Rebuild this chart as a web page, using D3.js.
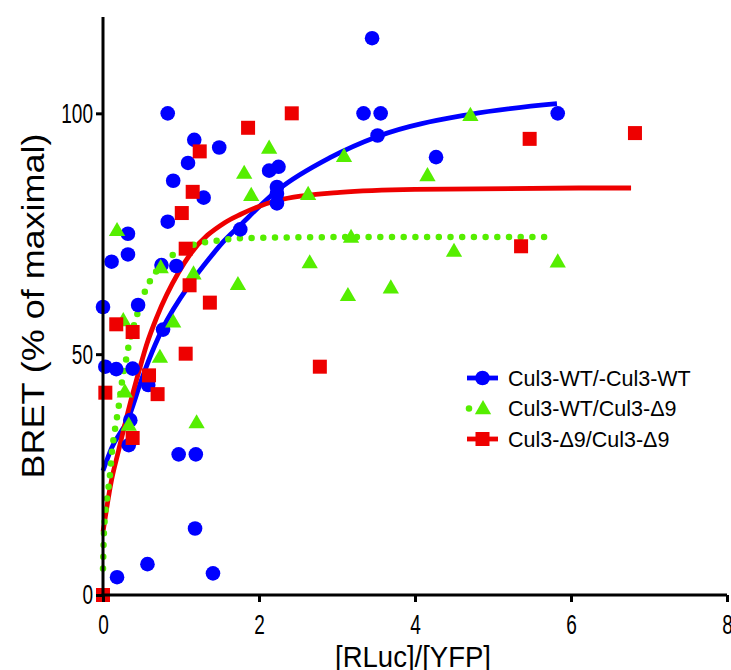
<!DOCTYPE html>
<html>
<head>
<meta charset="utf-8">
<script src="https://cdn.jsdelivr.net/npm/d3@7"></script>
<style>
  body { margin: 0; background: #fff; }
  svg { display: block; font-family: 'Liberation Sans', Arial, Helvetica, sans-serif; }
</style>
</head>
<body>
<svg id="chart" width="731" height="670"></svg>
<script>
// series names
const seriesNames = ['Cul3-WT/-Cul3-WT', 'Cul3-WT/Cul3-Δ9', 'Cul3-Δ9/Cul3-Δ9']

// measured points [RLuc]/[YFP], BRET %
const wtWtPoints = [
  [0.0, 59.8], [0.03, 47.4], [0.11, 69.2], [0.17, 46.9], [0.18, 3.7], [0.32, 75.0],
  [0.32, 70.7], [0.33, 31.1], [0.35, 36.3], [0.38, 47.0], [0.45, 60.2], [0.57, 6.4],
  [0.58, 43.6], [0.75, 68.5], [0.77, 55.1], [0.83, 100], [0.83, 77.5], [0.90, 86.0],
  [0.94, 68.3], [0.97, 29.2], [1.09, 89.7], [1.17, 94.5], [1.18, 13.8], [1.19, 29.2],
  [1.29, 82.5], [1.41, 4.5], [1.49, 92.9], [1.76, 75.9], [2.13, 88.1], [2.25, 88.9],
  [2.23, 84.7], [2.23, 83.3], [2.23, 81.3], [3.34, 100], [3.45, 115.6], [3.52, 95.4],
  [3.56, 100], [4.27, 90.9], [5.83, 100]
]
const wtD9Points = [
  [0.18, 75.7], [0.26, 57.0], [0.28, 42.2], [0.33, 35.3], [0.73, 49.4], [0.74, 68.0],
  [0.90, 56.7], [1.16, 66.7], [1.20, 35.8], [1.73, 64.5], [1.81, 87.6], [1.90, 83.0],
  [2.13, 92.8], [2.63, 83.2], [2.65, 69.0], [3.09, 91.1], [3.14, 62.2], [3.18, 74.3],
  [3.69, 63.8], [4.16, 87.1], [4.50, 71.4], [4.71, 99.6], [5.83, 69.2]
]
const d9D9Points = [
  [0, 0], [0.03, 42.0], [0.17, 56.2], [0.38, 54.6], [0.38, 32.6], [0.59, 45.6],
  [0.70, 41.7], [1.01, 79.3], [1.06, 71.9], [1.06, 50.1], [1.11, 64.3], [1.15, 83.7],
  [1.24, 92.1], [1.37, 60.7], [1.86, 97.0], [2.42, 100], [2.78, 47.4], [5.36, 72.4],
  [5.47, 94.7], [6.82, 95.9]
]

// fitted curves
const wtWtCurve = [
  [0, 25.8], [0.11, 30.5], [0.32, 36.5], [0.5, 45], [0.67, 52], [0.77, 55.5], [1.12, 64.7],
  [1.37, 70], [1.54, 73.3], [1.76, 76.8], [2.25, 84.2], [2.91, 90.8], [3.52, 95.2],
  [4.71, 99.8], [5.82, 102]
]
const wtD9Curve = [
  [0, 5.5], [0.01, 12], [0.03, 17], [0.06, 21], [0.09, 25], [0.11, 29], [0.15, 34],
  [0.2, 39], [0.24, 43.9], [0.29, 48.4], [0.32, 51], [0.43, 57.8], [0.53, 62.7],
  [0.67, 66.9], [0.87, 70.3], [1.0, 71.6], [1.14, 72.6], [1.43, 73.5], [1.7, 74],
  [2.2, 74.2], [3, 74.3], [5.75, 74.3]
]
const d9D9Curve = [
  [0, 13.1], [0.11, 23.9], [0.2, 30], [0.32, 38], [0.47, 47], [0.56, 52], [0.69, 57.7],
  [0.97, 67], [1.12, 70.8], [1.56, 77.3], [1.76, 79], [2.23, 81.9], [3.04, 83.6],
  [4, 84.2], [6.1, 84.5], [6.77, 84.5]
]

const xTicks = [0, 2, 4, 6, 8]
const yTicks = [0, 50, 100]

const margin = { left: 103, right: 4, top: 17, bottom: 75 }
const width = 731
const height = 670

const blue = '#0000ff'
const green = '#55ee00'
const red = '#ee0000'

const svg = d3.select('#chart')

const xScale = d3.scaleLinear().domain([0, 8]).range([margin.left, width - margin.right])
const yScale = d3.scaleLinear().domain([0, 120]).range([height - margin.bottom, margin.top])

const line = d3.line()
  .x(d => xScale(d[0]))
  .y(d => yScale(d[1]))
  .curve(d3.curveMonotoneX)

// curves
svg.append('path').datum(wtWtCurve)
  .attr('d', line).attr('fill', 'none').attr('stroke', blue).attr('stroke-width', 4.8)
svg.append('path').datum(d9D9Curve)
  .attr('d', line).attr('fill', 'none').attr('stroke', red).attr('stroke-width', 4.8)
svg.append('path').datum(wtD9Curve)
  .attr('d', line).attr('fill', 'none').attr('stroke', green).attr('stroke-width', 6.5)
  .attr('stroke-linecap', 'round').attr('stroke-dasharray', '0 11.7')

const tri = d3.symbol().type(d3.symbolTriangle).size(115)

// points
svg.append('g').selectAll('circle').data(wtWtPoints).join('circle')
  .attr('cx', d => xScale(d[0])).attr('cy', d => yScale(d[1]))
  .attr('r', 7.3).attr('fill', blue)
svg.append('g').selectAll('path').data(wtD9Points).join('path')
  .attr('d', tri)
  .attr('transform', d => `translate(${xScale(d[0])},${yScale(d[1]) + 1})`)
  .attr('fill', green)
svg.append('g').selectAll('rect').data(d9D9Points).join('rect')
  .attr('x', d => xScale(d[0]) - 7).attr('y', d => yScale(d[1]) - 7)
  .attr('width', 14).attr('height', 14).attr('fill', red)

// axes
const xAxis = d3.axisBottom(xScale).tickValues(xTicks).tickSize(7).tickSizeOuter(0).tickPadding(12)
const yAxis = d3.axisLeft(yScale).tickValues(yTicks).tickSize(7).tickSizeOuter(0).tickPadding(3)

const gx = svg.append('g')
  .attr('transform', `translate(0,${height - margin.bottom})`)
  .call(xAxis)
const gy = svg.append('g')
  .attr('transform', `translate(${margin.left},0)`)
  .call(yAxis)

// condensed tick labels, squeezed horizontally
const squeeze = 0.68
;[gx, gy].forEach(g => {
  g.attr('font-family', null).attr('font-size', null)
  g.select('.domain').attr('stroke', '#000').attr('stroke-width', 3)
  g.selectAll('.tick line').attr('stroke', '#000').attr('stroke-width', 3)
  g.selectAll('.tick text').attr('font-size', 28).attr('fill', '#000')
    .attr('transform', `scale(${squeeze},1)`)
})
gy.selectAll('.tick text').attr('x', -10 / squeeze)

// y domain path drawn full from 0 to top
gy.select('.domain').attr('d', `M0,${yScale(0) + 1.5}V${margin.top}`)
gx.select('.domain').attr('d', `M${margin.left - 1.5},0H${width - margin.right}`)

// axis titles
svg.append('text')
  .attr('x', (margin.left + width - margin.right) / 2 - 2)
  .attr('y', 667)
  .attr('text-anchor', 'middle')
  .attr('font-size', 30)
  .attr('textLength', 156)
  .attr('lengthAdjust', 'spacingAndGlyphs')
  .text('[RLuc]/[YFP]')

svg.append('text')
  .attr('transform', `translate(44,${(yScale(0) + margin.top) / 2}) rotate(-90)`)
  .attr('text-anchor', 'middle')
  .attr('font-size', 31)
  .attr('textLength', 345)
  .attr('lengthAdjust', 'spacingAndGlyphs')
  .text('BRET (% of maximal)')

// legend
const legend = svg.append('g').attr('transform', 'translate(467,378)')
const rowGap = 30.5
const rows = legend.selectAll('g').data(seriesNames).join('g')
  .attr('transform', (d, i) => `translate(0,${i * rowGap})`)

rows.append('text')
  .attr('x', 41).attr('y', 0).attr('dy', '0.35em')
  .attr('font-size', 21.5)
  .text(d => d)

// blue symbol
rows.filter((d, i) => i === 0).append('line')
  .attr('x1', 0).attr('x2', 31).attr('stroke', blue).attr('stroke-width', 4.8)
rows.filter((d, i) => i === 0).append('circle')
  .attr('cx', 15.5).attr('r', 7.3).attr('fill', blue)
// green symbol
rows.filter((d, i) => i === 1).append('line')
  .attr('x1', 2).attr('x2', 30).attr('stroke', green).attr('stroke-width', 6.5)
  .attr('stroke-linecap', 'round').attr('stroke-dasharray', '0 28')
rows.filter((d, i) => i === 1).append('path')
  .attr('d', tri).attr('transform', 'translate(16,1)').attr('fill', green)
// red symbol
rows.filter((d, i) => i === 2).append('line')
  .attr('x1', 0).attr('x2', 31).attr('stroke', red).attr('stroke-width', 4.8)
rows.filter((d, i) => i === 2).append('rect')
  .attr('x', 8.5).attr('y', -7).attr('width', 14).attr('height', 14).attr('fill', red)
</script>
</body>
</html>
